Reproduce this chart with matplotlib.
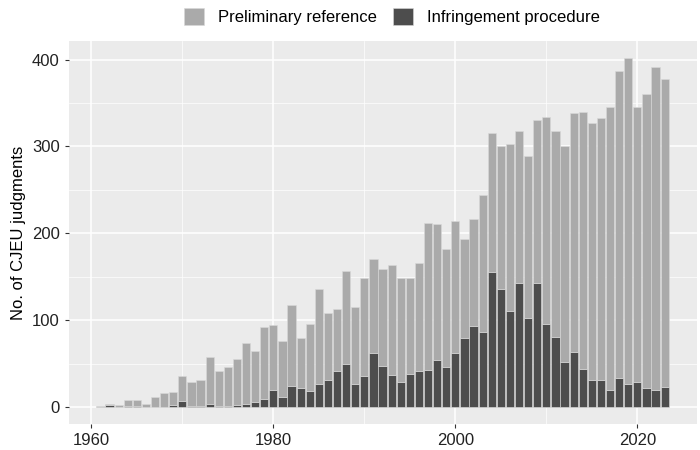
import matplotlib.pyplot as plt
import numpy as np

years = list(range(1961, 2024))
total = [1, 3, 2, 8, 8, 4, 12, 16, 17, 36, 29, 31, 57, 42, 46, 55, 74, 64, 92, 94,
         76, 118, 80, 96, 136, 108, 113, 157, 115, 149, 170, 159, 164, 149, 149, 166,
         212, 211, 182, 214, 193, 216, 244, 315, 300, 303, 318, 289, 331, 334, 318,
         301, 339, 340, 327, 333, 345, 387, 402, 346, 360, 392, 378]
infringement = [0, 2, 0, 1, 1, 0, 0, 0, 2, 7, 1, 1, 4, 1, 1, 2, 3, 6, 9, 19,
                12, 24, 22, 18, 27, 31, 42, 49, 27, 36, 62, 47, 37, 29, 38, 41,
                43, 54, 46, 62, 80, 93, 86, 155, 136, 111, 143, 103, 143, 95, 81,
                52, 63, 44, 31, 31, 20, 33, 27, 29, 22, 19, 23]
preliminary = [t - i for t, i in zip(total, infringement)]

plt.rcParams['font.family'] = ['Liberation Sans', 'DejaVu Sans']
fig, ax = plt.subplots(figsize=(7, 4.5), dpi=100)
fig.subplots_adjust(left=0.098, right=0.995, top=0.91, bottom=0.057)
ax.set_facecolor('#EBEBEB')

ax.bar(years, infringement, width=0.9, color='#4D4D4D', edgecolor='#D9D9D9',
       linewidth=0.4, label='Infringement procedure', zorder=3)
ax.bar(years, preliminary, bottom=infringement, width=0.9, color='#AAAAAA',
       edgecolor='#D9D9D9', linewidth=0.4, label='Preliminary reference', zorder=3)

ax.set_xlim(1957.5, 2026.5)
ax.set_ylim(-20, 422)
ax.set_xticks([1960, 1980, 2000, 2020])
ax.set_xticks([1970, 1990, 2010], minor=True)
ax.set_yticks([0, 100, 200, 300, 400])
ax.set_yticks([50, 150, 250, 350], minor=True)
ax.grid(which='major', color='white', linewidth=1.1, zorder=0)
ax.grid(which='minor', color='white', linewidth=0.5, zorder=0)
ax.set_axisbelow(True)
for s in ax.spines.values():
    s.set_visible(False)
ax.tick_params(which='major', labelsize=12, color='#333333', length=3, labelcolor='#222222')
ax.tick_params(which='minor', length=0)
ax.set_ylabel('No. of CJEU judgments', fontsize=12)

h, l = ax.get_legend_handles_labels()
fig.legend(h[::-1], l[::-1], loc='upper center', ncol=2, frameon=False,
           fontsize=12, bbox_to_anchor=(0.56, 1.015), handlelength=1.2,
           handleheight=1.2, columnspacing=1.0)

fig.savefig('out.png')
